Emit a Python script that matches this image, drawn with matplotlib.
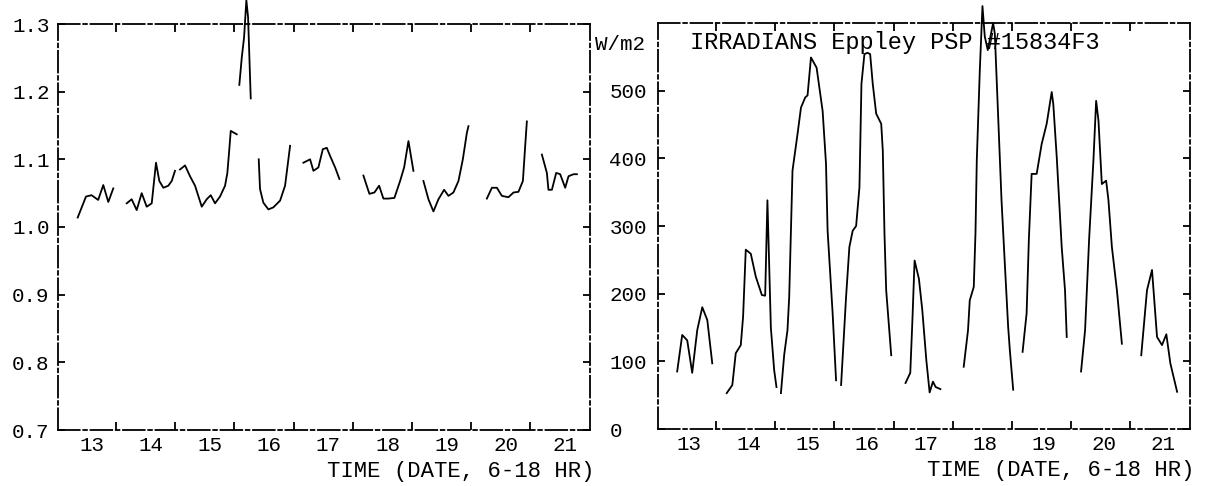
import numpy as np
import matplotlib.pyplot as plt
from matplotlib.ticker import FixedLocator, NullFormatter

plt.rcParams['font.family'] = ['Liberation Mono', 'DejaVu Sans Mono']

# day labels (centre of each 6-18 hr window) and the day boundaries
day_labels = ['13', '14', '15', '16', '17', '18', '19', '20', '21']
day_centers = [13, 14, 15, 16, 17, 18, 19, 20, 21]
day_bounds = [13.5, 14.5, 15.5, 16.5, 17.5, 18.5, 19.5, 20.5]

# left panel: ratio, one list per day segment
ratio_t = [
    [12.853, 12.993, 13.087, 13.199, 13.285, 13.370, 13.454],
    [13.681, 13.765, 13.850, 13.934, 14.019, 14.104, 14.176, 14.232, 14.300, 14.384, 14.442, 14.497],
    [14.582, 14.667, 14.751, 14.836, 14.949, 15.033, 15.101, 15.174, 15.258, 15.343, 15.382, 15.415, 15.439, 15.540],
    [15.584, 15.625, 15.664, 15.703, 15.732, 15.777],
    [15.912, 15.934, 15.990, 16.075, 16.159, 16.273, 16.357, 16.442],
    [16.667, 16.780, 16.836, 16.920, 16.995, 17.062, 17.118, 17.203, 17.275],
    [17.681, 17.782, 17.867, 17.946, 18.019, 18.103, 18.205, 18.301, 18.369, 18.442, 18.526],
    [18.695, 18.780, 18.864, 18.949, 19.045, 19.118, 19.202, 19.287, 19.361, 19.429, 19.456],
    [19.767, 19.852, 19.936, 20.021, 20.132, 20.217, 20.301, 20.376, 20.415, 20.443],
    [20.697, 20.781, 20.808, 20.866, 20.939, 21.006, 21.091, 21.147, 21.231, 21.289],
]
ratio_v = [
    [1.014, 1.045, 1.047, 1.040, 1.062, 1.037, 1.057],
    [1.035, 1.041, 1.025, 1.050, 1.030, 1.035, 1.095, 1.068, 1.058, 1.061, 1.068, 1.083],
    [1.085, 1.091, 1.075, 1.061, 1.030, 1.041, 1.047, 1.035, 1.045, 1.061, 1.080, 1.115, 1.142, 1.137],
    [1.21, 1.25, 1.28, 1.335, 1.31, 1.19],
    [1.100, 1.056, 1.036, 1.026, 1.029, 1.039, 1.061, 1.120],
    [1.095, 1.100, 1.083, 1.088, 1.115, 1.117, 1.105, 1.088, 1.071],
    [1.076, 1.049, 1.051, 1.061, 1.042, 1.042, 1.043, 1.068, 1.088, 1.127, 1.083],
    [1.068, 1.041, 1.023, 1.041, 1.055, 1.046, 1.051, 1.068, 1.100, 1.139, 1.149],
    [1.042, 1.058, 1.058, 1.046, 1.044, 1.051, 1.052, 1.068, 1.120, 1.156],
    [1.107, 1.080, 1.055, 1.055, 1.080, 1.078, 1.058, 1.075, 1.078, 1.078],
]

# right panel: irradiance W/m2, one list per day
irr_t = [
    [12.844, 12.929, 13.014, 13.098, 13.183, 13.268, 13.353, 13.437],
    [13.681, 13.776, 13.834, 13.919, 13.958, 14.003, 14.088, 14.173, 14.275, 14.331, 14.369, 14.398, 14.427, 14.483, 14.522],
    [14.597, 14.653, 14.708, 14.737, 14.793, 14.878, 14.936, 15.008, 15.047, 15.105, 15.200, 15.302, 15.359, 15.386, 15.471, 15.529],
    [15.614, 15.698, 15.754, 15.810, 15.868, 15.924, 15.958, 16.008, 16.059, 16.105, 16.149, 16.207, 16.292, 16.319, 16.347, 16.376, 16.461],
    [16.703, 16.783, 16.817, 16.856, 16.929, 16.986, 17.054, 17.110, 17.166, 17.212, 17.292],
    [17.686, 17.759, 17.788, 17.856, 17.885, 17.907, 17.958, 18.003, 18.042, 18.093, 18.183, 18.212, 18.325, 18.381, 18.437, 18.466, 18.522],
    [18.681, 18.749, 18.787, 18.834, 18.919, 19.003, 19.088, 19.173, 19.200, 19.258, 19.342, 19.398, 19.427],
    [19.669, 19.737, 19.805, 19.878, 19.924, 19.963, 20.020, 20.093, 20.132, 20.190, 20.275, 20.359],
    [20.686, 20.783, 20.868, 20.953, 21.037, 21.110, 21.178, 21.292],
]
irr_v = [
    [85, 139, 131, 83, 146, 180, 161, 97],
    [53, 65, 112, 124, 166, 265, 259, 225, 198, 197, 338, 245, 150, 87, 62],
    [53, 110, 146, 195, 382, 436, 475, 490, 493, 549, 534, 470, 392, 293, 171, 72],
    [65, 195, 269, 293, 300, 357, 510, 554, 556, 554, 510, 466, 451, 411, 289, 205, 109],
    [68, 83, 156, 249, 222, 176, 102, 54, 70, 62, 59],
    [92, 146, 190, 210, 290, 397, 530, 625, 580, 560, 600, 584, 338, 244, 151, 116, 58],
    [114, 171, 280, 377, 377, 421, 451, 498, 480, 402, 269, 205, 136],
    [85, 146, 280, 397, 485, 456, 362, 367, 338, 269, 205, 126],
    [109, 205, 235, 136, 124, 140, 97, 55],
]

ratio_ticks = [0.7, 0.8, 0.9, 1.0, 1.1, 1.2, 1.3]
ratio_ticklabels = ['0.7', '0.8', '0.9', '1.0', '1.1', '1.2', '1.3']
irr_ticks = [0, 100, 200, 300, 400, 500]
irr_ticklabels = ['0', '100', '200', '300', '400', '500']

fs = 15


def frame(ax, label_shift):
    ax.set_xlim(12.52, 21.51)
    ax.xaxis.set_major_locator(FixedLocator(day_bounds))
    ax.xaxis.set_major_formatter(NullFormatter())
    ax.set_xticks([d + label_shift for d in day_centers], day_labels, minor=True)
    ax.tick_params(axis='x', which='minor', length=0, pad=4, labelsize=fs)
    ax.tick_params(axis='x', which='major', direction='in', length=6, width=1.3,
                   top=True, bottom=True)
    ax.tick_params(axis='y', direction='in', length=5, width=1.3,
                   left=True, right=True, labelsize=fs)
    for sp in ax.spines.values():
        sp.set_linewidth(1.3)
        sp.set_linestyle((0, (12, 2, 2, 2)))
    ax.text(1.008, -0.101, 'TIME (DATE, 6-18 HR)', transform=ax.transAxes,
            ha='right', va='center', fontsize=fs + 1)


fig = plt.figure(figsize=(12.05, 4.86), dpi=100)
ax1 = fig.add_axes([58 / 1205, 56 / 486, 532 / 1205, 406 / 486])
ax2 = fig.add_axes([658 / 1205, 57 / 486, 532 / 1205, 406 / 486])

# left panel
for t, v in zip(ratio_t, ratio_v):
    ax1.plot(t, v, color='black', lw=1.3, clip_on=False)
ax1.set_ylim(0.7, 1.3)
ax1.set_yticks(ratio_ticks, ratio_ticklabels)
frame(ax1, 0.09)
ax1.tick_params(axis='y', pad=6)

# right panel
for t, v in zip(irr_t, irr_v):
    ax2.plot(t, v, color='black', lw=1.3, clip_on=False)
ax2.set_ylim(0, 600)
ax2.set_yticks(irr_ticks, irr_ticklabels)
frame(ax2, 0.05)
ax2.tick_params(axis='y', pad=35)
for lab in ax2.get_yticklabels():
    lab.set_horizontalalignment('left')
ax2.text(-0.118, 0.946, 'W/m2', transform=ax2.transAxes,
         ha='left', va='center', fontsize=fs)
ax2.text(0.06, 0.951, 'IRRADIANS Eppley PSP #15834F3', transform=ax2.transAxes,
         ha='left', va='center', fontsize=fs + 2)

fig.savefig('out.png', dpi=100, facecolor='white')
